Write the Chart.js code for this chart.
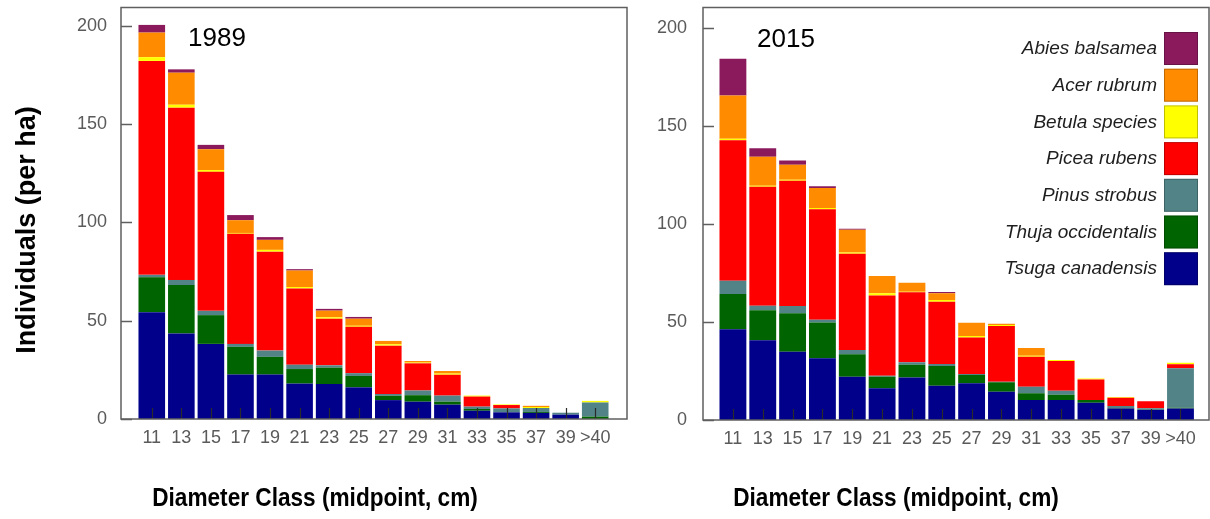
<!DOCTYPE html>
<html>
<head>
<meta charset="utf-8">
<script src="https://cdn.jsdelivr.net/npm/chart.js@4.4.0/dist/chart.umd.min.js"></script>
<style>
html, body { margin: 0; padding: 0; background: #fff; }
#wrap { position: relative; width: 1210px; height: 519px; overflow: hidden; }
canvas { position: absolute; top: 0; }
</style>
</head>
<body>
<div id="wrap">
  <canvas id="c1989" width="640" height="519" style="left:0;width:640px;height:519px"></canvas>
  <canvas id="c2015" width="570" height="519" style="left:640px;width:570px;height:519px"></canvas>
</div>
<script>
const diameterClasses = ['11', '13', '15', '17', '19', '21', '23', '25', '27', '29', '31', '33', '35', '37', '39', '>40'];
const yTicks = [0, 50, 100, 150, 200];

// legend order, top to bottom
const species = ['Abies balsamea', 'Acer rubrum', 'Betula species', 'Picea rubens', 'Pinus strobus', 'Thuja occidentalis', 'Tsuga canadensis'];
const speciesColors = ['#8b1a5c', '#ff8c00', '#ffff00', '#ff0000', '#528487', '#006400', '#00008b'];

// 1989, individuals per ha
const abies1989  = [3.9, 1.7, 2.2, 2.6, 1.4, 0.7, 0.9, 0.9, 0, 0, 0, 0, 0, 0, 0, 0];
const acer1989   = [12.5, 16.3, 10.6, 6.5, 5.1, 8.4, 3.4, 3.6, 1.7, 0.8, 1.3, 0, 0, 0.6, 0, 0];
const betula1989 = [1.9, 1.5, 0.9, 0.4, 0.9, 0.7, 0.7, 0.5, 0.7, 0.4, 0.6, 0.5, 0.3, 0.5, 0, 0.8];
const picea1989  = [108.8, 87.6, 70.7, 56.0, 50.3, 38.8, 23.7, 23.6, 24.6, 13.8, 10.6, 5.1, 1.7, 0, 0, 0];
const pinus1989  = [1.2, 2.6, 2.2, 1.5, 3.2, 2.2, 1.2, 1.4, 0.9, 2.4, 3.1, 1.2, 2.0, 2.0, 1.0, 7.2];
const thuja1989  = [17.8, 24.6, 14.6, 14.1, 9.0, 7.4, 8.3, 5.8, 2.2, 3.3, 1.5, 0.9, 0, 0.5, 0, 1.2];
const tsuga1989  = [54.3, 43.5, 38.2, 22.6, 22.6, 18.0, 17.8, 16.1, 9.6, 8.8, 7.3, 4.2, 3.4, 3.1, 2.2, 0];

// 2015
const abies2015  = [18.7, 4.3, 2.2, 0.8, 0.5, 0, 0, 0.7, 0, 0, 0, 0, 0, 0, 0, 0];
const acer2015   = [22.1, 14.8, 7.7, 10.2, 11.6, 8.8, 4.6, 3.4, 6.8, 0.7, 3.9, 0, 0, 0, 0, 0];
const betula2015 = [0.7, 0.5, 0.5, 0.7, 0.7, 1.2, 0.3, 0.9, 0.7, 0.5, 0.5, 0.5, 0.4, 0.4, 0, 0.8];
const picea2015  = [71.6, 60.7, 63.8, 56.3, 49.0, 40.8, 35.7, 31.8, 18.7, 28.4, 15.3, 15.2, 10.5, 4.2, 3.6, 2.0];
const pinus2015  = [6.8, 2.2, 3.7, 1.4, 2.2, 0.5, 1.2, 1.0, 0.5, 0.3, 3.4, 2.0, 0, 1.0, 0.9, 20.1];
const thuja2015  = [17.9, 15.3, 19.6, 18.2, 11.4, 5.9, 6.6, 10.0, 4.2, 4.8, 3.4, 2.7, 1.4, 0.3, 0, 0.5];
const tsuga2015  = [46.3, 40.7, 34.8, 31.5, 22.1, 16.2, 21.6, 17.5, 18.7, 14.4, 10.2, 10.2, 8.8, 5.8, 5.1, 5.8];

const FONT = '"Liberation Sans", Arial, sans-serif';
const tickColor = '#5a5a5a';

// frame, inward ticks, panel label, axis titles, legend
const decor = {
    id: 'decor',
    afterDatasetsDraw(chart, args, o) {
        const { ctx, chartArea: a, scales: { x, y } } = chart;
        ctx.save();

        ctx.strokeStyle = '#2a2a2a';
        ctx.lineWidth = 1.2;
        ctx.beginPath();
        x.ticks.forEach((t, i) => {
            const px = Math.round(x.getPixelForTick(i)) + 0.5;
            ctx.moveTo(px, a.bottom);
            ctx.lineTo(px, a.bottom - 11);
        });
        ctx.stroke();

        ctx.strokeStyle = '#5f5f5f';
        ctx.lineWidth = 1.5;
        ctx.beginPath();
        y.ticks.forEach((t, i) => {
            const py = Math.round(y.getPixelForTick(i)) + 0.5;
            ctx.moveTo(o.frameLeft, py);
            ctx.lineTo(o.frameLeft + 11, py);
        });
        ctx.stroke();
        ctx.strokeRect(o.frameLeft, a.top - 0.5, o.frameRight - o.frameLeft, a.bottom - a.top + 0.5);

        ctx.fillStyle = '#000';
        ctx.font = '26px ' + FONT;
        ctx.textAlign = 'left';
        ctx.textBaseline = 'alphabetic';
        ctx.fillText(o.label, o.labelX, o.labelY);

        ctx.font = 'bold 26px ' + FONT;
        ctx.textAlign = 'center';
        ctx.save();
        ctx.translate(o.xTitleX, 506);
        ctx.scale(0.87, 1);
        ctx.fillText('Diameter Class (midpoint, cm)', 0, 0);
        ctx.restore();

        if (o.yTitle) {
            ctx.save();
            ctx.translate(35, 230);
            ctx.rotate(-Math.PI / 2);
            ctx.font = 'bold 27px ' + FONT;
            ctx.fillText(o.yTitle, 0, 0);
            ctx.restore();
        }

        if (o.legend) {
            ctx.font = 'italic 19px ' + FONT;
            ctx.textAlign = 'right';
            ctx.textBaseline = 'middle';
            species.forEach((s, i) => {
                const top = 32 + i * 36.7;
                ctx.fillStyle = speciesColors[i];
                ctx.fillRect(o.legendX, top, 34, 33);
                ctx.strokeStyle = 'rgba(0,0,0,0.25)';
                ctx.lineWidth = 1;
                ctx.strokeRect(o.legendX + 0.5, top + 0.5, 33, 32);
                ctx.fillStyle = '#1e1e1e';
                ctx.fillText(s, o.legendX - 7, top + 17);
            });
        }
        ctx.restore();
    }
};

const makeChart = (id, series, o) => {
    const datasets = [];
    for (let i = species.length - 1; i >= 0; i--) {
        datasets.push({
            label: species[i],
            data: series[i],
            backgroundColor: speciesColors[i],
            borderWidth: 0,
            barPercentage: 0.9,
            categoryPercentage: 1
        });
    }
    return new Chart(document.getElementById(id), {
        type: 'bar',
        data: { labels: diameterClasses, datasets },
        options: {
            responsive: false,
            animation: false,
            layout: { padding: { top: 8, right: o.padRight, left: 0, bottom: 0 } },
            plugins: { legend: { display: false }, tooltip: { enabled: false }, decor: o },
            scales: {
                x: {
                    stacked: true,
                    grid: { display: false, drawTicks: false },
                    border: { display: false },
                    ticks: { color: tickColor, font: { family: FONT, size: 18 }, padding: 8, maxRotation: 0, autoSkip: false },
                    afterFit: s => { s.height = o.xHeight; s.paddingLeft = 0; s.paddingRight = 0; }
                },
                y: {
                    stacked: true,
                    min: 0,
                    max: o.yMax,
                    grid: { display: false, drawTicks: false },
                    border: { display: false },
                    ticks: { color: tickColor, font: { family: FONT, size: 18 }, padding: o.yPad },
                    afterBuildTicks: s => { s.ticks = yTicks.map(v => ({ value: v })); },
                    // the tick padding would otherwise push the plot area down
                    afterFit: s => { s.width = o.yWidth; s.paddingTop = 0; s.paddingBottom = 0; }
                }
            }
        },
        plugins: [decor]
    });
};

makeChart('c1989',
    [abies1989, acer1989, betula1989, picea1989, pinus1989, thuja1989, tsuga1989],
    { yMax: 209, yWidth: 137, padRight: 30, xHeight: 100, yPad: 30,
      frameLeft: 121, frameRight: 627, label: '1989', labelX: 188, labelY: 46,
      xTitleX: 315, yTitle: 'Individuals (per ha)' });

makeChart('c2015',
    [abies2015, acer2015, betula2015, picea2015, pinus2015, thuja2015, tsuga2015],
    { yMax: 210, yWidth: 78, padRight: 14.6, xHeight: 99, yPad: 31,
      frameLeft: 63, frameRight: 569, label: '2015', labelX: 117, labelY: 47,
      xTitleX: 256, legend: true, legendX: 524 });
</script>
</body>
</html>
